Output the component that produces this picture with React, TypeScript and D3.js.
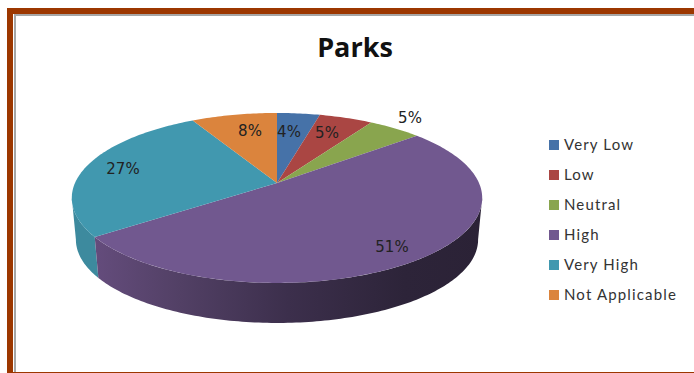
import React from "react";
import * as d3 from "d3";

const categories = ["Very Low", "Low", "Neutral", "High", "Very High", "Not Applicable"];
const values = [4, 5, 5, 51, 27, 8];
const colors = ["#4672a8", "#aa4643", "#89a54e", "#71588f", "#4198af", "#db843d"];
const labelPos: [number, number][] = [[289, 137], [327, 138], [410, 123], [392, 252], [123, 174], [250, 136]];

const W = 694, H = 373;
const cx = 277, cy = 183, a = 202, k = 82.35, p = -0.176;

const project = (t: number, depth = 0, s = 1): [number, number] => {
  const u = Math.sin(t), v = -Math.cos(t);
  const den = 1 + p * v;
  return [cx + (s * a * u) / den, cy + depth + (s * k * v) / den];
};
const angles = (t0: number, t1: number) => {
  const n = Math.max(2, Math.ceil((Math.abs(t1 - t0) * 180) / Math.PI));
  return d3.range(n + 1).map((i) => t0 + ((t1 - t0) * i) / n);
};
const line = d3.line<[number, number]>().x((d) => d[0]).y((d) => d[1]);
const pie = d3.pie<number>().sort(null)(values);
const DEPTH = 42, SCALE = 0.98;
const silhouetteR = (100 * Math.PI) / 180;
const silhouetteL = (260 * Math.PI) / 180;

const sidePath = (t0: number, t1: number) => {
  const top = angles(t0, t1).map((t) => project(t));
  const bot = angles(t1, t0).map((t) => project(t, DEPTH, SCALE));
  return line([...top, ...bot])! + "Z";
};

export default function App() {
  const high = pie[3];
  const vh = pie[4];
  return (
    <svg width={W} height={H} style={{ position: "fixed", left: 0, top: 0, background: "#fff" }}>
      <defs>
        <linearGradient id="sideP" gradientUnits="userSpaceOnUse" x1={95} x2={482} y1={0} y2={0}>
          <stop offset="0" stopColor="#644c7c" />
          <stop offset="0.22" stopColor="#524065" />
          <stop offset="0.5" stopColor="#3c2f4c" />
          <stop offset="0.8" stopColor="#2d2439" />
          <stop offset="1" stopColor="#2b2236" />
        </linearGradient>
      </defs>
      <rect x={7} y={8} width={687} height={6} fill="#9c3700" />
      <rect x={7} y={8} width={6} height={365} fill="#9c3700" />
      <rect x={7} y={372} width={687} height={1} fill="#9c3700" />
      <rect x={14} y={14} width={680} height={2} fill="#a6a6a6" />
      <rect x={14} y={14} width={2} height={358} fill="#a6a6a6" />
      <text x={355} y={57} textAnchor="middle" fontFamily="'Open Sans'" fontWeight={700} fontSize={27} fill="#111">Parks</text>
      <path d={sidePath(vh.startAngle, silhouetteL)} fill="#3d8a9e" />
      <path d={sidePath(silhouetteR, high.endAngle)} fill="url(#sideP)" />
      {pie.map((d, i) => (
        <path
          key={i}
          d={line([[cx, cy], ...angles(d.startAngle, d.endAngle).map((t) => project(t))])! + "Z"}
          fill={colors[i]}
        />
      ))}
      {values.map((v, i) => (
        <text key={i} x={labelPos[i][0]} y={labelPos[i][1]} textAnchor="middle" fontFamily="'DejaVu Sans'" fontSize={15} fill="#222">{v}%</text>
      ))}
      {categories.map((c, i) => (
        <g key={c}>
          <rect x={549} y={140 + i * 30} width={10} height={10} fill={colors[i]} />
          <text x={564} y={149.5 + i * 30} fontFamily="Lato" fontSize={15} letterSpacing={1.15} fill="#333">{c}</text>
        </g>
      ))}
    </svg>
  );
}
